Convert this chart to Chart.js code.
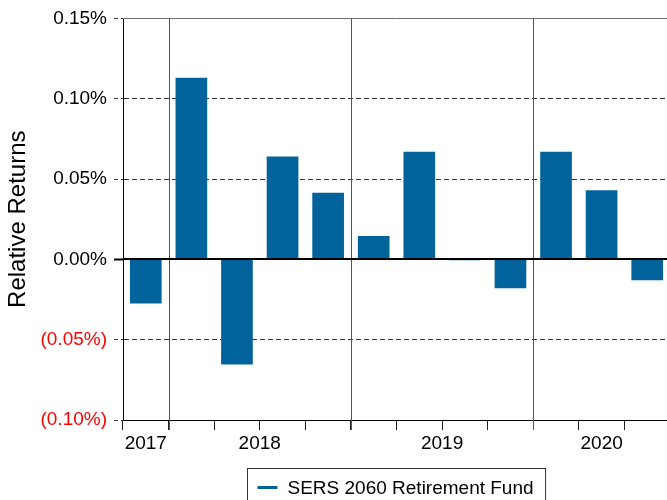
<!DOCTYPE html>
<html>
<head>
<meta charset="utf-8">
<script src="https://cdn.jsdelivr.net/npm/chart.js@4.4.0/dist/chart.umd.min.js"></script>
<style>
  html, body { margin: 0; padding: 0; background: #fff; overflow: hidden; }
  canvas { display: block; }
</style>
</head>
<body>
<canvas id="returnsChart" width="670" height="500"></canvas>
<script>
// Quarterly relative returns (percent) of the fund
const quarters = ['2017 Q4', '2018 Q1', '2018 Q2', '2018 Q3', '2018 Q4',
                  '2019 Q1', '2019 Q2', '2019 Q3', '2019 Q4',
                  '2020 Q1', '2020 Q2', '2020 Q3'];
const relativeReturns = [-0.0275, 0.113, -0.0655, 0.064, 0.0415,
                         0.0145, 0.067, -0.0005, -0.018,
                         0.067, 0.043, -0.013];
const yearLabels = ['2017', '2018', '2019', '2020'];
const seriesName = 'SERS 2060 Retirement Fund';
const yMin = -0.10;
const yMax = 0.15;
const yStep = 0.05;

const FONT = "'Liberation Sans', Arial, Helvetica, sans-serif";
const BAR_COLOR = '#02639c';

// Group quarters by year: label centre and break positions (in category units)
const yearGroups = yearLabels.map(yr => {
  const idx = quarters.map((q, i) => (q.startsWith(yr) ? i : -1)).filter(i => i >= 0);
  return { first: idx[0], last: idx[idx.length - 1] };
});
const yearCenters = yearGroups.map(g => (g.first + g.last) / 2);
const yearBreaks = yearGroups.slice(1).map(g => g.first - 0.5);

const isZero = v => Math.abs(v) < 1e-9;
function fmtPct(v) {
  const s = Math.abs(v).toFixed(2) + '%';
  return v < -1e-9 ? '(' + s + ')' : s;
}

Chart.defaults.font.family = FONT;
Chart.defaults.color = '#000';

// Top frame line, year separators and the zero baseline
const framePlugin = {
  id: 'frame',
  afterDatasetsDraw(chart) {
    const { ctx, chartArea: a, scales } = chart;
    const tickLen = chart.options.scales.x.grid.tickLength;
    ctx.save();
    ctx.lineWidth = 1;
    ctx.strokeStyle = '#6e6e6e';
    const yt = Math.round(a.top) + 0.5;
    ctx.beginPath();
    ctx.moveTo(a.left, yt);
    ctx.lineTo(a.right, yt);
    ctx.stroke();

    ctx.strokeStyle = '#555';
    yearBreaks.forEach(b => {
      const px = Math.round(scales.xYear.getPixelForValue(b)) + 0.5;
      ctx.beginPath();
      ctx.moveTo(px, a.top);
      ctx.lineTo(px, a.bottom + tickLen);
      ctx.stroke();
    });

    const y0 = Math.round(scales.y.getPixelForValue(0));
    ctx.strokeStyle = '#000';
    ctx.lineWidth = 2;
    ctx.beginPath();
    ctx.moveTo(a.left, y0);
    ctx.lineTo(a.right, y0);
    ctx.stroke();
    ctx.restore();
  }
};

// Boxed legend centred under the plot area
const legendBoxPlugin = {
  id: 'legendBox',
  afterDraw(chart) {
    const { ctx, chartArea: a } = chart;
    const ds = chart.data.datasets[0];
    ctx.save();
    ctx.font = '19px ' + FONT;
    const tw = ctx.measureText(ds.label).width;
    const padL = 10, padR = 12, swatch = 20, gap = 10;
    const w = padL + swatch + gap + tw + padR;
    const left = Math.round((a.left + a.right) / 2 - w / 2) + 0.5;
    const top = Math.round(a.bottom + 48) + 0.5;
    ctx.strokeStyle = '#333';
    ctx.lineWidth = 1;
    ctx.strokeRect(left, top, w, 60);
    const midY = top + 19;
    ctx.strokeStyle = ds.backgroundColor;
    ctx.lineWidth = 3;
    ctx.beginPath();
    ctx.moveTo(left + padL, midY);
    ctx.lineTo(left + padL + swatch, midY);
    ctx.stroke();
    ctx.fillStyle = '#000';
    ctx.textBaseline = 'alphabetic';
    ctx.textAlign = 'left';
    ctx.fillText(ds.label, left + padL + swatch + gap, top + 25);
    ctx.restore();
  }
};

new Chart(document.getElementById('returnsChart'), {
  type: 'bar',
  data: {
    labels: quarters,
    datasets: [{
      label: seriesName,
      data: relativeReturns,
      backgroundColor: BAR_COLOR,
      borderWidth: 0,
      barPercentage: 0.695,
      categoryPercentage: 1
    }]
  },
  options: {
    responsive: false,
    animation: false,
    layout: { padding: { top: 17, left: 0, right: 0, bottom: 40 } },
    plugins: {
      legend: { display: false },
      tooltip: { enabled: false }
    },
    scales: {
      x: {
        type: 'category',
        position: 'bottom',
        weight: 0,
        grid: {
          offset: true,
          drawOnChartArea: false,
          drawTicks: true,
          tickLength: 10,
          color: '#222',
          tickColor: '#222',
          lineWidth: 1
        },
        border: { display: true, color: '#000', width: 1 },
        ticks: { display: false },
        afterFit: s => { s.height = 10; }
      },
      xYear: {
        type: 'linear',
        position: 'bottom',
        weight: 1,
        offset: false,
        min: -0.5,
        max: quarters.length - 0.5,
        grid: { display: false, drawTicks: false, offset: false },
        border: { display: false },
        ticks: {
          autoSkip: false,
          maxRotation: 0,
          padding: 2,
          font: { size: 19 },
          color: '#000',
          callback: (v, i) => yearLabels[i]
        },
        afterBuildTicks: s => { s.ticks = yearCenters.map(v => ({ value: v })); },
        afterFit: s => { s.height = 30; }
      },
      y: {
        min: yMin,
        max: yMax,
        ticks: {
          stepSize: yStep,
          padding: 7,
          font: { size: 19 },
          color: c => (c.tick.value < -1e-9 ? '#ff0000' : '#000'),
          callback: v => fmtPct(v)
        },
        grid: {
          drawOnChartArea: true,
          tickLength: 9,
          lineWidth: 1,
          color: c => {
            const v = c.tick.value;
            if (isZero(v) || Math.abs(v - yMax) < 1e-9 || Math.abs(v - yMin) < 1e-9) return 'transparent';
            return '#333';
          },
          tickColor: c => (isZero(c.tick.value) ? '#000' : '#333'),
          tickWidth: c => (isZero(c.tick.value) ? 2 : 1),
          tickBorderDash: c => (isZero(c.tick.value) ? [] : [4, 3])
        },
        border: { display: true, color: '#000', width: 1, dash: [5, 3] },
        title: {
          display: true,
          text: 'Relative Returns',
          font: { size: 24 },
          color: '#000',
          padding: { top: 4, bottom: 0 }
        },
        afterFit: s => { s.width = 123; }
      }
    }
  },
  plugins: [framePlugin, legendBoxPlugin]
});
</script>
</body>
</html>
